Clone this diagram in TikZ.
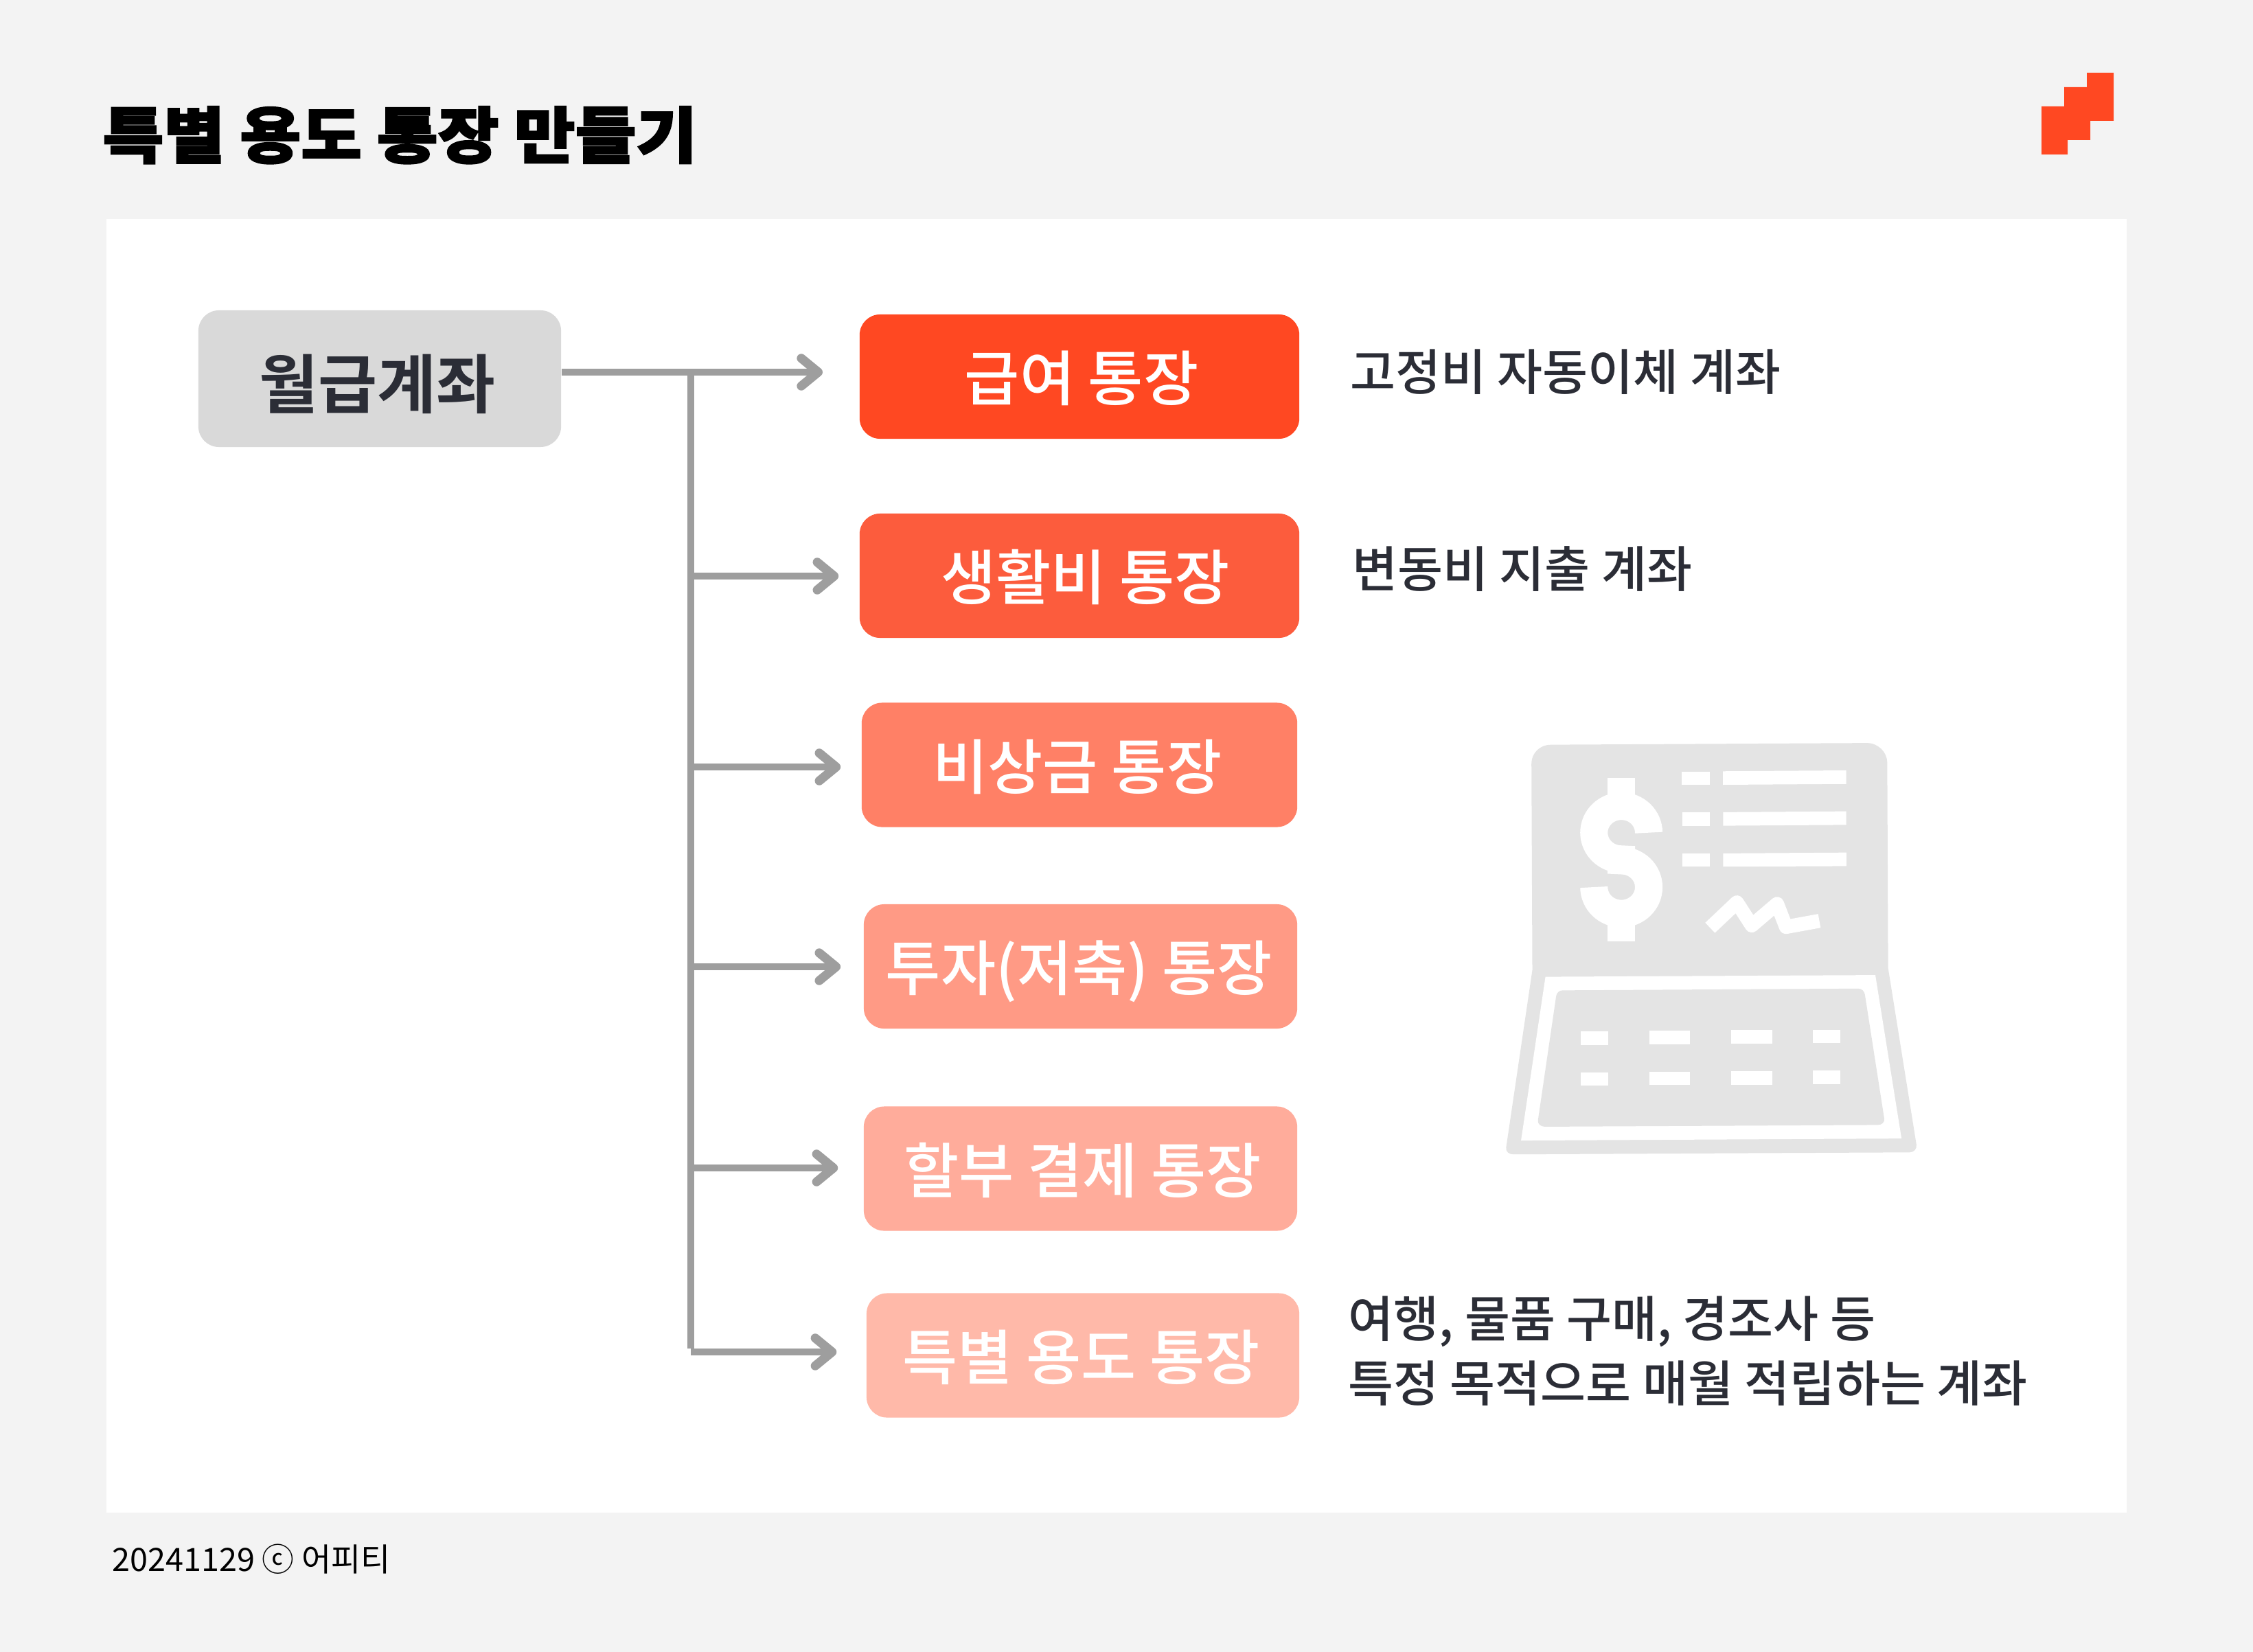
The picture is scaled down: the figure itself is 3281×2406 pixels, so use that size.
\documentclass[tikz,border=0pt]{standalone}
\usepackage{fontspec}
\usetikzlibrary{arrows.meta}
\newfontfamily\krreg{Noto Sans CJK KR}
\newfontfamily\krmed{Noto Sans CJK KR Medium}
\newfontfamily\krbold{Noto Sans CJK KR Bold}
\newfontfamily\krblack[FakeBold=2.5,FakeStretch=1.085]{Noto Sans CJK KR Black}
\definecolor{pagebg}{HTML}{F3F3F3}
\definecolor{rootfill}{HTML}{D9D9D9}
\definecolor{ink}{HTML}{2B2D36}
\definecolor{linegray}{HTML}{9E9E9E}
\definecolor{icongray}{HTML}{E4E4E4}
\definecolor{fa}{HTML}{FF4822}
\definecolor{fb}{HTML}{FC5C3D}
\definecolor{fc}{HTML}{FF8066}
\definecolor{fd}{HTML}{FF9A85}
\definecolor{fe}{HTML}{FFAC9B}
\definecolor{ff}{HTML}{FFB9A9}
\tikzset{
  acct/.style={draw=none,inner sep=0pt,rounded corners=8.5pt,text=white,
    font=\krmed\fontsize{24.8pt}{30pt}\selectfont,text height=24pt,text depth=4pt,minimum height=51.5pt},
  rootbox/.style={fill=rootfill,inner sep=0pt,rounded corners=8.5pt,text=ink,minimum width=150.2pt,minimum height=56.6pt,
    font=\krbold\fontsize{26.6pt}{30pt}\selectfont,text height=28.4pt,text depth=4pt},
  note/.style={anchor=west,inner sep=0pt,text=ink,align=left,font=\krmed\fontsize{20.4pt}{26.7pt}\selectfont},
  flow/.style={draw=linegray,line width=2.8pt,-{Straight Barb[round,length=7pt,width=11.5pt,line width=3.7pt]}},
  trunk/.style={draw=linegray,line width=2.8pt},
  iconwhite/.style={fill=white,draw=none},
}
\begin{document}
\begin{tikzpicture}[x=0.01cm,y=-0.01cm]
\useasboundingbox (0,0) rectangle (3281,2406);
\fill[pagebg] (0,0) rectangle (3281,2406);
\fill[white] (155,319) rectangle (3097,2203);
\node[anchor=base west,inner sep=0pt,text=black,font=\krblack\fontsize{25.3pt}{30pt}\selectfont] (title) at (149,230) {특별 용도 통장 만들기};
\fill[fa] (3078,106)--(3039,106)--(3039,127)--(3006,127)--(3006,155)--(2973,155)--(2973,225)--(3011,225)--(3011,204)--(3044,204)--(3044,176)--(3078,176)--cycle;
\node[anchor=base west,inner sep=0pt,text=black,font=\krreg\fontsize{13.3pt}{16pt}\selectfont] (foot) at (163,2288) {20241129 ⓒ 어피티};
% boxes
\node[rootbox] (root) at (553,551.5) {월급계좌\kern1.8pt};
\node[acct,fill=fa,minimum width=182.1pt] (b1) at (1572,548.5) {\kern1.8pt 급여 통장};
\node[acct,fill=fb,minimum width=182.1pt] (b2) at (1572,838.5) {\kern4.8pt 생활비 통장};
\node[acct,fill=fc,minimum width=180.4pt] (b3) at (1572,1114) {비상금 통장\kern1.8pt};
\node[acct,fill=fd,minimum width=179.5pt] (b4) at (1573.5,1407.5) {투자(저축) 통장\kern1.2pt};
\node[acct,fill=fe,minimum width=179.5pt] (b5) at (1573.5,1702) {\kern1.8pt 할부 결제 통장};
\node[acct,fill=ff,minimum width=179.2pt] (b6) at (1577,1974) {특별 용도 통장\kern1.2pt};
\node[note] (n1) at (1966,542) {고정비 자동이체 계좌};
\node[note] (n2) at (1969,829) {변동비 지출 계좌};
\node[note] (n3) at (1963,1968) {여행, 물품 구매, 경조사 등\\특정 목적으로 매월 적립하는 계좌};
% connectors
\coordinate (j1) at (1006,542);
\coordinate (j2) at (1006,839);
\coordinate (j3) at (1006,1117);
\coordinate (j4) at (1006,1408);
\coordinate (j5) at (1006,1701);
\coordinate (j6) at (1006,1969);
\draw[trunk] ([yshift=-1.4pt]j1) -- ([yshift=1.4pt]j6);
\draw[flow,shorten >=15.1pt] (root.east |- j1) -- (b1.west |- j1);
\draw[flow,shorten >=8.5pt] (j2) -- (b2.west |- j2);
\draw[flow,shorten >=8.5pt] (j3) -- (b3.west |- j3);
\draw[flow,shorten >=9.4pt] (j4) -- (b4.west |- j4);
\draw[flow,shorten >=10.5pt] (j5) -- (b5.west |- j5);
\draw[flow,shorten >=12.2pt] (j6) -- (b6.west |- j6);
% icon
\begin{scope}[shift={(2150,1041.4)},x=0.004337cm,y=-0.00419cm]
\fill[icongray] (185,170) .. controls (185,130) and (215,103) .. (250,103) -- (1312,97) .. controls (1350,97) and (1380,130) .. (1380,165) -- (1383,878) -- (1478,1490) .. controls (1480,1505) and (1470,1517) .. (1455,1517) -- (125,1524) .. controls (110,1524) and (98,1515) .. (100,1500) -- (188,885) -- cycle;
\fill[iconwhite] (232,908) -- (1340,902) -- (1428,1469) -- (150,1476) -- cycle;
\fill[icongray] (268,975) .. controls (270,962) and (280,955) .. (290,955) -- (1282,949) .. controls (1295,949) and (1303,958) .. (1305,970) -- (1370,1400) .. controls (1372,1412) and (1362,1422) .. (1348,1422) -- (230,1428) .. controls (216,1428) and (205,1418) .. (207,1405) -- cycle;
\foreach \a/\b/\c/\d in {351/443/1097/1144,581/718/1095/1142,856/994/1093/1140,1131/1223/1092/1138,351/443/1239/1285,581/718/1237/1284,856/994/1235/1282,1131/1223/1234/1280,690/783/196/242,691/783/337/384,692/784/480/526}
  \fill[iconwhite] (\a,\c) rectangle (\b,\d);
\fill[iconwhite] (828,195)--(1242,192)--(1242,239)--(828,242)--cycle;
\fill[iconwhite] (829,337)--(1242,334)--(1242,381)--(829,384)--cycle;
\fill[iconwhite] (829,480)--(1243,477)--(1243,524)--(829,526)--cycle;
\draw[white,line width=5.8pt,line join=round] (785,738)--(875,650)--(925,730)--(1010,655)--(1040,735)--(1152,714);
\fill[iconwhite] (441,219) rectangle (533,290);
\fill[iconwhite] (441,715) rectangle (533,786);
\draw[white,line width=11.4pt] (579,408) arc[start angle=0,end angle=-270,radius=92] -- (487,505) arc[start angle=-90,end angle=180,radius=92];
\end{scope}
\end{tikzpicture}
\end{document}
